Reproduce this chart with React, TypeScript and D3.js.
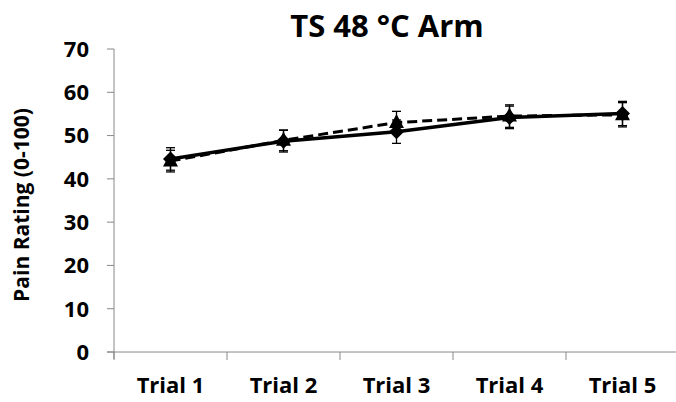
import * as d3 from "d3";

const trials = ["Trial 1", "Trial 2", "Trial 3", "Trial 4", "Trial 5"];
// solid line, diamond markers
const solidMeans = [44.6, 48.7, 50.9, 54.2, 55.1];
const solidErr = [2.6, 2.5, 2.7, 2.6, 2.8];
// dashed line, triangle markers
const dashedMeans = [44.1, 48.9, 53.0, 54.5, 54.8];
const dashedErr = [2.5, 2.4, 2.6, 2.6, 2.8];
const yTicks = [0, 10, 20, 30, 40, 50, 60, 70];

const W = 676;
const H = 402;
const left = 114;
const right = 679;
const top = 49;
const bottom = 352;
const font = "'Open Sans', 'Noto Sans', sans-serif";

export default function App() {
  const x = d3.scaleBand<string>().domain(trials).range([left, right]);
  const y = d3.scaleLinear().domain([0, 70]).range([bottom, top]);
  const cx = (t: string) => (x(t) as number) + x.bandwidth() / 2;

  const line = d3
    .line<number>()
    .x((_, i) => cx(trials[i]))
    .y((d) => y(d));

  // Excel style markers: square diamond and triangle
  const diamond = "M0,-7.5L7.5,0L0,7.5L-7.5,0Z";
  const triangle = "M0,-8.5L7.5,5.5L-7.5,5.5Z";

  const errBars = (means: number[], errs: number[], key: string) =>
    means.map((m, i) => {
      const c = cx(trials[i]);
      const y1 = y(m + errs[i]);
      const y2 = y(m - errs[i]);
      return (
        <g key={key + i} stroke="#000" strokeWidth={1.3}>
          <line x1={c} x2={c} y1={y1} y2={y2} />
          <line x1={c - 4.5} x2={c + 4.5} y1={y1} y2={y1} />
          <line x1={c - 4.5} x2={c + 4.5} y1={y2} y2={y2} />
        </g>
      );
    });

  return (
    <svg width={W} height={H} style={{ position: "absolute", left: 0, top: 0 }}>
      <rect width={W} height={H} fill="#fff" />
      <text
        x={387}
        y={37}
        textAnchor="middle"
        fontFamily={font}
        fontWeight="bold"
        fontSize={31}
      >
        TS 48 °C Arm
      </text>

      {/* y axis */}
      <line x1={left} x2={left} y1={top} y2={bottom + 7} stroke="#888" strokeWidth={1} />
      {yTicks.map((t) => (
        <g key={t}>
          <line x1={left - 7} x2={left} y1={y(t)} y2={y(t)} stroke="#888" />
          <text
            x={89}
            y={y(t)}
            dy="0.36em"
            textAnchor="end"
            fontFamily={font}
            fontWeight="bold"
            fontSize={22}
          >
            {t}
          </text>
        </g>
      ))}
      <text
        transform={`translate(29, 205) rotate(-90)`}
        textAnchor="middle"
        fontFamily={font}
        fontWeight="bold"
        fontSize={21}
      >
        Pain Rating (0-100)
      </text>

      {/* x axis */}
      <line x1={left - 7} x2={right} y1={bottom} y2={bottom} stroke="#888" />
      {trials.map((t) => (
        <g key={t}>
          <line
            x1={x(t) as number}
            x2={x(t) as number}
            y1={bottom}
            y2={bottom + 8}
            stroke="#888"
          />
          <text
            x={cx(t)}
            y={393}
            textAnchor="middle"
            fontFamily={font}
            fontWeight="bold"
            fontSize={22}
          >
            {t}
          </text>
        </g>
      ))}

      {errBars(dashedMeans, dashedErr, "d")}
      {errBars(solidMeans, solidErr, "s")}

      <path
        d={line(dashedMeans) as string}
        fill="none"
        stroke="#000"
        strokeWidth={3}
        strokeDasharray="10,5"
      />
      <path d={line(solidMeans) as string} fill="none" stroke="#000" strokeWidth={3.5} />

      {dashedMeans.map((m, i) => (
        <path key={"tri" + i} d={triangle} transform={`translate(${cx(trials[i])},${y(m)})`} fill="#000" />
      ))}
      {solidMeans.map((m, i) => (
        <path key={"dia" + i} d={diamond} transform={`translate(${cx(trials[i])},${y(m)})`} fill="#000" />
      ))}
    </svg>
  );
}
